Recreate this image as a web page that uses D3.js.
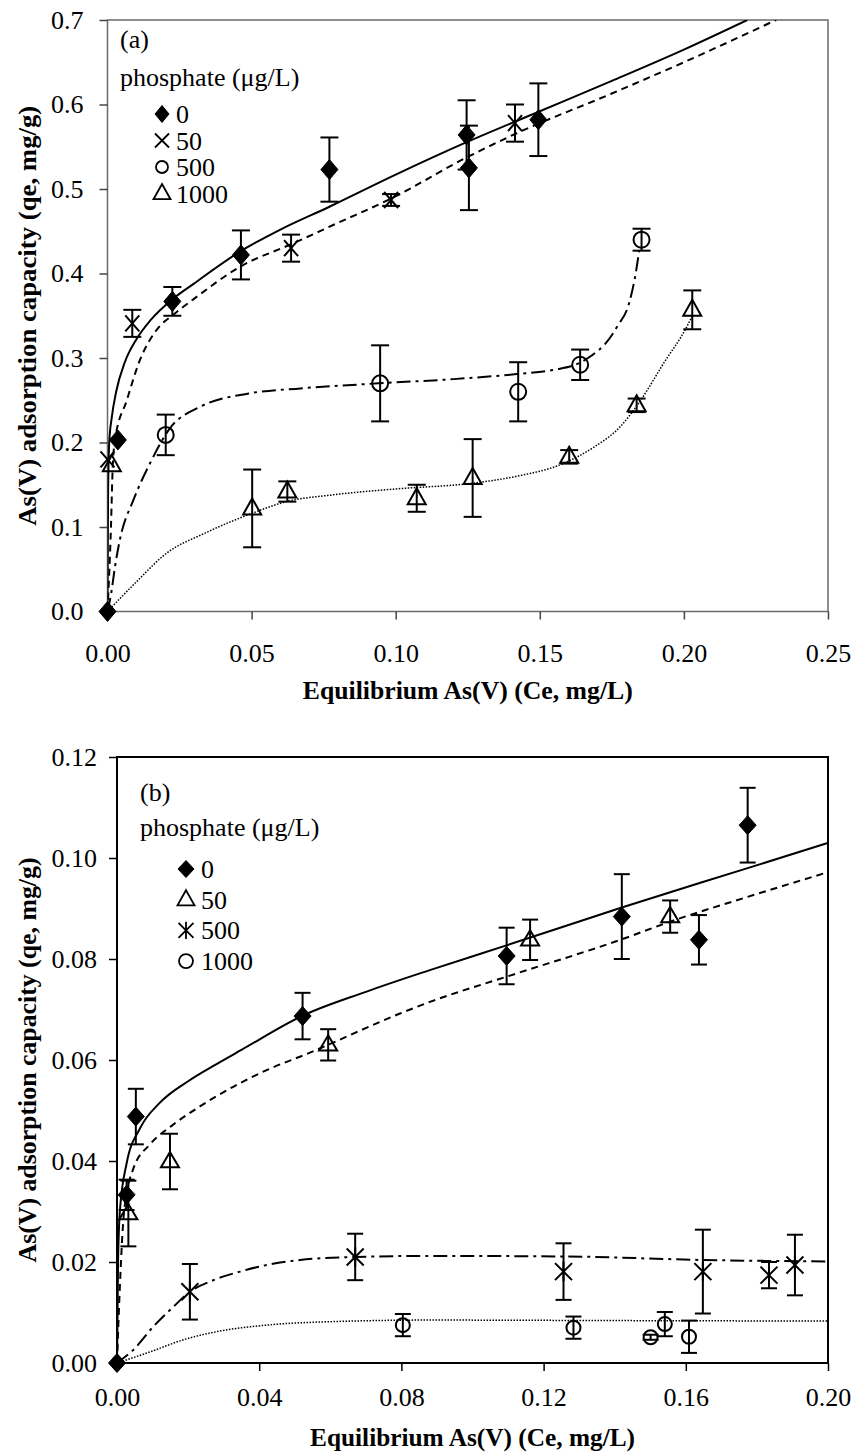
<!DOCTYPE html>
<html><head><meta charset="utf-8">
<script src="https://cdn.jsdelivr.net/npm/d3@7"></script>
<style>
body{margin:0;background:#fff;} svg{display:block;}
svg text{font-family:"Liberation Serif","Times New Roman",Times,serif !important;}
</style>
</head><body>
<svg id="c" width="856" height="1453"></svg>
<script>
// ---------- Panel (a) data ----------
const aXTicks = [0, 0.05, 0.10, 0.15, 0.20, 0.25];
const aXTickLabels = ["0.00", "0.05", "0.10", "0.15", "0.20", "0.25"];
const aYTicks = [0, 0.1, 0.2, 0.3, 0.4, 0.5, 0.6, 0.7];
const aYTickLabels = ["0.0", "0.1", "0.2", "0.3", "0.4", "0.5", "0.6", "0.7"];
const aSeriesNames = ["0", "50", "500", "1000"];

const a0X = [0, 0.0036, 0.0225, 0.0463, 0.077, 0.1246, 0.1254, 0.1495];
const a0Y = [0, 0.203, 0.367, 0.422, 0.523, 0.564, 0.525, 0.582];
const a0E = [0, 0, 0.017, 0.029, 0.038, 0.041, 0.050, 0.043];

const a50X = [0, 0.0086, 0.0637, 0.0984, 0.1414];
const a50Y = [0.18, 0.341, 0.430, 0.487, 0.578];
const a50E = [0, 0.016, 0.016, 0.007, 0.022];

const a500X = [0.0202, 0.0946, 0.1425, 0.164, 0.1853];
const a500Y = [0.209, 0.270, 0.260, 0.292, 0.440];
const a500E = [0.024, 0.045, 0.035, 0.018, 0.013];

const a1000X = [0.0015, 0.0502, 0.0624, 0.1073, 0.1267, 0.1602, 0.1836, 0.2029];
const a1000Y = [0.173, 0.122, 0.142, 0.134, 0.158, 0.183, 0.244, 0.357];
const a1000E = [0, 0.046, 0.012, 0.016, 0.046, 0.008, 0.008, 0.023];

const a0FitX = [0, 0.0002, 0.0006, 0.0015, 0.003, 0.006, 0.01, 0.015, 0.022, 0.03, 0.046, 0.06, 0.077, 0.1, 0.125, 0.15, 0.175, 0.2, 0.222];
const a0FitY = [0, 0.14, 0.2, 0.23, 0.26, 0.295, 0.322, 0.345, 0.368, 0.388, 0.426, 0.452, 0.479, 0.517, 0.556, 0.592, 0.628, 0.665, 0.7];
const a50FitX = [0, 0.0012, 0.0018, 0.0026, 0.0067, 0.0113, 0.017, 0.0235, 0.03, 0.046, 0.064, 0.08, 0.098, 0.125, 0.142, 0.175, 0.2, 0.232];
const a50FitY = [0, 0.1, 0.17, 0.203, 0.25, 0.298, 0.333, 0.353, 0.37, 0.408, 0.435, 0.46, 0.488, 0.538, 0.566, 0.613, 0.65, 0.7];
const a500FitX = [0, 0.0012, 0.0026, 0.0043, 0.009, 0.0147, 0.0217, 0.032, 0.049, 0.067, 0.094, 0.12, 0.142, 0.155, 0.163, 0.168, 0.173, 0.177, 0.181, 0.183, 0.1845];
const a500FitY = [0, 0.02, 0.053, 0.085, 0.132, 0.175, 0.217, 0.242, 0.258, 0.264, 0.27, 0.275, 0.281, 0.286, 0.293, 0.303, 0.318, 0.338, 0.365, 0.395, 0.427];
const a1000FitX = [0, 0.01, 0.0205, 0.034, 0.05, 0.062, 0.078, 0.1, 0.127, 0.142, 0.158, 0.169, 0.178, 0.185, 0.193, 0.201, 0.2029];
const a1000FitY = [0, 0.035, 0.069, 0.093, 0.116, 0.13, 0.138, 0.145, 0.152, 0.16, 0.175, 0.195, 0.219, 0.25, 0.294, 0.337, 0.35];

// ---------- Panel (b) data ----------
const bXTicks = [0, 0.04, 0.08, 0.12, 0.16, 0.20];
const bXTickLabels = ["0.00", "0.04", "0.08", "0.12", "0.16", "0.20"];
const bYTicks = [0, 0.02, 0.04, 0.06, 0.08, 0.10, 0.12];
const bYTickLabels = ["0.00", "0.02", "0.04", "0.06", "0.08", "0.10", "0.12"];
const bSeriesNames = ["0", "50", "500", "1000"];

const b0X = [0, 0.0027, 0.0053, 0.0522, 0.1096, 0.142, 0.1637, 0.1774];
const b0Y = [0, 0.0333, 0.0488, 0.0687, 0.0806, 0.0884, 0.0838, 0.1065];
const b0E = [0, 0.003, 0.0055, 0.0046, 0.0056, 0.0084, 0.0049, 0.0074];

const b50X = [0.0032, 0.0149, 0.0594, 0.1162, 0.1556];
const b50Y = [0.0296, 0.0399, 0.063, 0.0838, 0.0884];
const b50E = [0.0065, 0.0055, 0.0031, 0.004, 0.0032];

const b500X = [0.0205, 0.067, 0.1256, 0.1648, 0.1834, 0.1907];
const b500Y = [0.0141, 0.021, 0.0181, 0.0181, 0.0174, 0.0194];
const b500E = [0.0055, 0.0046, 0.0056, 0.0083, 0.0026, 0.006];

const b1000X = [0.0804, 0.1284, 0.1501, 0.1541, 0.1609];
const b1000Y = [0.0075, 0.007, 0.0051, 0.0077, 0.0052];
const b1000E = [0.0022, 0.0022, 0.0005, 0.0024, 0.0032];

const b0FitX = [0, 0.0003, 0.0008, 0.0027, 0.0065, 0.012, 0.02, 0.028, 0.035, 0.052, 0.07, 0.088, 0.11, 0.142, 0.1774, 0.2];
const b0FitY = [0, 0.02, 0.03, 0.0395, 0.0465, 0.0515, 0.0558, 0.0592, 0.062, 0.0687, 0.0735, 0.0778, 0.0828, 0.0902, 0.098, 0.103];
const b50FitX = [0, 0.0008, 0.002, 0.0046, 0.0093, 0.0158, 0.0233, 0.0327, 0.0421, 0.0534, 0.0796, 0.088, 0.1096, 0.142, 0.1556, 0.1774, 0.2];
const b50FitY = [0, 0.015, 0.03, 0.0385, 0.0433, 0.0472, 0.0508, 0.0547, 0.058, 0.0612, 0.0692, 0.0715, 0.0765, 0.0839, 0.0874, 0.0923, 0.0972];
const b500FitX = [0, 0.0046, 0.0102, 0.0158, 0.0205, 0.0271, 0.0346, 0.0421, 0.0515, 0.067, 0.088, 0.1256, 0.1648, 0.2];
const b500FitY = [0, 0.0026, 0.0072, 0.0111, 0.0141, 0.0164, 0.0181, 0.0194, 0.0204, 0.021, 0.0212, 0.0211, 0.0204, 0.0201];
const b1000FitX = [0, 0.0093, 0.0187, 0.028, 0.0421, 0.0608, 0.088, 0.14, 0.2];
const b1000FitY = [0, 0.0022, 0.0046, 0.0062, 0.0075, 0.0082, 0.0085, 0.0084, 0.0083];

// ---------- drawing ----------
const svg = d3.select("#c");
const FS = 26;

function markerPath(type, s) {
  if (type === "diamond") return `M0,${-s.h}L${s.w},0L0,${s.h}L${-s.w},0Z`;
  if (type === "x") return `M${-s.w},${-s.h}L${s.w},${s.h}M${-s.w},${s.h}L${s.w},${-s.h}`;
  if (type === "asterisk") return `M${-s.w},${-s.h}L${s.w},${s.h}M${-s.w},${s.h}L${s.w},${-s.h}M0,${-s.h * 1.15}L0,${s.h * 1.15}`;
  if (type === "triangle") return `M0,${-s.h}L${s.w},${s.h * 0.6}L${-s.w},${s.h * 0.6}Z`;
  return "";
}

function drawMarker(g, type, cx, cy, s, sw) {
  if (type === "circle") {
    g.append("circle").attr("cx", cx).attr("cy", cy).attr("r", s.r)
      .attr("fill", "none").attr("stroke", "#000").attr("stroke-width", sw);
  } else {
    g.append("path").attr("transform", `translate(${cx},${cy})`)
      .attr("d", markerPath(type, s))
      .attr("fill", type === "diamond" ? "#000" : "none")
      .attr("stroke", "#000").attr("stroke-width", type === "diamond" ? 1 : sw)
      .attr("stroke-linejoin", "miter");
  }
}

function drawPanel(cfg) {
  const x = d3.scaleLinear().domain(cfg.xDomain).range(cfg.xRange);
  const y = d3.scaleLinear().domain(cfg.yDomain).range(cfg.yRange);
  const g = svg.append("g");
  const clipId = "clip" + cfg.id;
  g.append("clipPath").attr("id", clipId).append("rect")
    .attr("x", cfg.xRange[0]).attr("y", cfg.yRange[1])
    .attr("width", cfg.xRange[1] - cfg.xRange[0]).attr("height", cfg.yRange[0] - cfg.yRange[1]);

  g.append("rect").attr("x", cfg.xRange[0]).attr("y", cfg.yRange[1])
    .attr("width", cfg.xRange[1] - cfg.xRange[0]).attr("height", cfg.yRange[0] - cfg.yRange[1])
    .attr("fill", "none").attr("stroke", cfg.frameColor).attr("stroke-width", cfg.frameWidth);

  const xa = g.append("g").attr("transform", `translate(0,${cfg.yRange[0]})`)
    .call(d3.axisBottom(x).tickValues(cfg.xTicks).tickFormat((d, i) => cfg.xTickLabels[i])
      .tickSize(8).tickSizeOuter(0).tickPadding(cfg.xPad));
  xa.select(".domain").remove();
  xa.attr("font-size", FS);
  xa.selectAll("text").attr("fill", "#000");
  xa.selectAll("line").attr("stroke", cfg.tickColor).attr("stroke-width", 1.5);

  const ya = g.append("g").attr("transform", `translate(${cfg.xRange[0]},0)`)
    .call(d3.axisLeft(y).tickValues(cfg.yTicks).tickFormat((d, i) => cfg.yTickLabels[i])
      .tickSize(8).tickSizeOuter(0).tickPadding(cfg.yPad));
  ya.select(".domain").remove();
  ya.attr("font-size", FS);
  ya.selectAll("text").attr("fill", "#000");
  ya.selectAll("line").attr("stroke", cfg.tickColor).attr("stroke-width", 1.5);

  g.append("text").attr("x", (cfg.xRange[0] + cfg.xRange[1]) / 2).attr("y", cfg.xTitleY)
    .attr("text-anchor", "middle").attr("font-weight", "bold")
    .attr("font-size", 25).attr("textLength", cfg.xTitleLen).attr("lengthAdjust", "spacingAndGlyphs")
    .text("Equilibrium As(V) (Ce, mg/L)");
  g.append("text")
    .attr("transform", `translate(36,${(cfg.yRange[0] + cfg.yRange[1]) / 2}) rotate(-90)`)
    .attr("text-anchor", "middle").attr("font-weight", "bold")
    .attr("font-size", 25).attr("textLength", cfg.yTitleLen).attr("lengthAdjust", "spacingAndGlyphs")
    .text("As(V) adsorption capacity (qe, mg/g)");

  const line = d3.line().x(d => x(d[0])).y(d => y(d[1])).curve(d3.curveMonotoneX);
  const cg = g.append("g").attr("clip-path", `url(#${clipId})`);
  cfg.fits.forEach(f => {
    cg.append("path").attr("d", line(d3.zip(f.x, f.y)))
      .attr("fill", "none").attr("stroke", "#000")
      .attr("stroke-width", f.w).attr("stroke-dasharray", f.dash);
  });

  cfg.series.forEach(s => {
    const sg = g.append("g");
    s.x.forEach((xv, i) => {
      const e = s.e[i];
      if (e > 0) {
        const cx = x(xv), y1 = y(s.y[i] + e), y2 = y(s.y[i] - e);
        sg.append("line").attr("x1", cx).attr("x2", cx).attr("y1", y1).attr("y2", y2)
          .attr("stroke", "#000").attr("stroke-width", 2);
        [y1, y2].forEach(yy => sg.append("line").attr("x1", cx - cfg.cap).attr("x2", cx + cfg.cap)
          .attr("y1", yy).attr("y2", yy).attr("stroke", "#000").attr("stroke-width", 2));
      }
    });
    s.x.forEach((xv, i) => drawMarker(sg, s.type, x(xv), y(s.y[i]), s.size, 2));
  });

  const lg = g.append("g").attr("font-size", FS);
  lg.append("text").attr("x", cfg.leg.x).attr("y", cfg.leg.labelY).text(cfg.label);
  lg.append("text").attr("x", cfg.leg.x).attr("y", cfg.leg.titleY).text("phosphate (\u03bcg/L)");
  cfg.series.forEach((s, i) => {
    const cy = cfg.leg.y0 + i * cfg.leg.dy;
    drawMarker(lg, s.type, cfg.leg.symX, cy, s.legSize, 1.8);
    lg.append("text").attr("x", cfg.leg.textX).attr("y", cy + 9).text(cfg.names[i]);
  });
}

drawPanel({
  id: "a", label: "(a)", names: aSeriesNames,
  xDomain: [0, 0.25], yDomain: [0, 0.7], xRange: [107.5, 828], yRange: [611.5, 20],
  xTicks: aXTicks, xTickLabels: aXTickLabels, yTicks: aYTicks, yTickLabels: aYTickLabels,
  xPad: 24, yPad: 16, frameColor: "#6a6a6a", frameWidth: 1.5, tickColor: "#444",
  xTitleY: 699, xTitleLen: 330, yTitleLen: 420, cap: 9,
  fits: [
    { x: a0FitX, y: a0FitY, w: 2, dash: null },
    { x: a50FitX, y: a50FitY, w: 2, dash: "7,5" },
    { x: a500FitX, y: a500FitY, w: 2, dash: "14,5,3,5" },
    { x: a1000FitX, y: a1000FitY, w: 1.5, dash: "1.5,1.5" }
  ],
  series: [
    { x: a0X, y: a0Y, e: a0E, type: "diamond", size: { w: 8.5, h: 10 }, legSize: { w: 7, h: 8.5 } },
    { x: a50X, y: a50Y, e: a50E, type: "x", size: { w: 7, h: 8 }, legSize: { w: 7, h: 7 } },
    { x: a500X, y: a500Y, e: a500E, type: "circle", size: { r: 8 }, legSize: { r: 6 } },
    { x: a1000X, y: a1000Y, e: a1000E, type: "triangle", size: { w: 9, h: 10 }, legSize: { w: 8.5, h: 9.5 } }
  ],
  leg: { x: 120, labelY: 48, titleY: 86, y0: 114, dy: 26.5, symX: 162, textX: 176 }
});

drawPanel({
  id: "b", label: "(b)", names: bSeriesNames,
  xDomain: [0, 0.20], yDomain: [0, 0.12], xRange: [117, 828], yRange: [1363, 757],
  xTicks: bXTicks, xTickLabels: bXTickLabels, yTicks: bYTicks, yTickLabels: bYTickLabels,
  xPad: 17, yPad: 12, frameColor: "#000", frameWidth: 2, tickColor: "#000",
  xTitleY: 1446, xTitleLen: 325, yTitleLen: 405, cap: 8,
  fits: [
    { x: b0FitX, y: b0FitY, w: 2, dash: null },
    { x: b50FitX, y: b50FitY, w: 2, dash: "7,5" },
    { x: b500FitX, y: b500FitY, w: 2, dash: "14,5,3,5" },
    { x: b1000FitX, y: b1000FitY, w: 1.5, dash: "1.5,1.5" }
  ],
  series: [
    { x: b0X, y: b0Y, e: b0E, type: "diamond", size: { w: 8.5, h: 9.5 }, legSize: { w: 8, h: 8.5 } },
    { x: b50X, y: b50Y, e: b50E, type: "triangle", size: { w: 9, h: 9.5 }, legSize: { w: 8.5, h: 9.5 } },
    { x: b500X, y: b500Y, e: b500E, type: "asterisk", size: { w: 8.5, h: 8.5 }, legSize: { w: 7.5, h: 7.5 } },
    { x: b1000X, y: b1000Y, e: b1000E, type: "circle", size: { r: 7 }, legSize: { r: 7 } }
  ],
  leg: { x: 140, labelY: 801, titleY: 836, y0: 869, dy: 30.7, symX: 186, textX: 201 }
});
</script>
</body></html>
